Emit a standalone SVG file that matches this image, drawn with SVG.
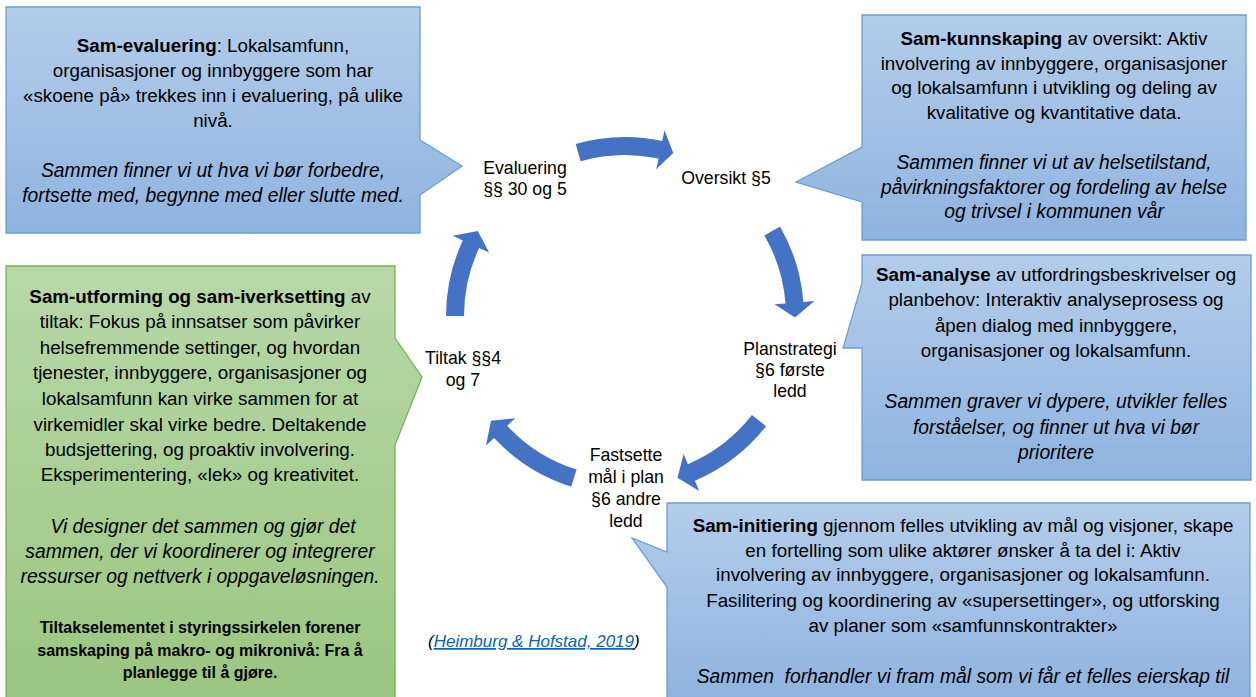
<svg xmlns="http://www.w3.org/2000/svg" width="1256" height="697" viewBox="0 0 1256 697">
<defs>
<linearGradient id="gb" x1="0" y1="0" x2="0" y2="1">
<stop offset="0" stop-color="#B3CDEA"/>
<stop offset="1" stop-color="#8FB3DF"/>
</linearGradient>
<linearGradient id="gg" x1="0" y1="0" x2="0" y2="1">
<stop offset="0" stop-color="#B8D8A9"/>
<stop offset="1" stop-color="#9BC57F"/>
</linearGradient>
<style>
.bb{fill:url(#gb);stroke:#6A9FD6;stroke-width:1.3}
.bg{fill:url(#gg);stroke:#77B255;stroke-width:1.3}
.t{font-family:"Liberation Sans",Arial,sans-serif;font-size:18.8px;fill:#000;text-anchor:middle}
.i{font-style:italic;font-size:19.3px}
.b{font-weight:bold}
.s{font-size:16px;font-weight:bold}
.lbl{font-size:17.7px}
.arr{fill:#4472C4}
.cite{font-family:"Liberation Sans",Arial,sans-serif;font-size:17px;font-style:italic;fill:#000}
.link{fill:#0563C1;text-decoration:underline}
</style>
</defs>

<g id="connectors">
<path class="arr" d="M575.7,143.9 A179,179 0 0 1 662.2,140.9 L664.5,130.2 L673.3,153 L656.2,169.3 L658.5,158.5 A161,161 0 0 0 580.6,161.2 Z"/>
<path class="arr" d="M780,226.5 A179,179 0 0 1 803.4,302 L814.4,301.1 L795,317.5 L774.5,304.2 L785.5,303.4 A161,161 0 0 0 764.4,235.5 Z"/>
<path class="arr" d="M766.1,426.2 A179,179 0 0 1 694.9,480.8 L699.2,490.9 L677.5,477.7 L683.6,454.1 L687.9,464.2 A161,161 0 0 0 751.9,415.1 Z"/>
<path class="arr" d="M571.2,486.7 A179,179 0 0 1 494.1,438.1 L486,445.6 L491,420.7 L515.3,418.3 L507.2,425.8 A161,161 0 0 0 576.6,469.5 Z"/>
<path class="arr" d="M446,316 A179,179 0 0 1 462.8,240.4 L452.8,235.7 L477.8,231 L489.1,252.6 L479.1,248 A161,161 0 0 0 464,316 Z"/>
</g>

<g id="sam-evaluering">
<path class="bb" d="M6,7 H420 V140 L462,166 L420,195 V233 H6 Z"/>
<text class="t" x="213" y="52"><tspan class="b">Sam-evaluering</tspan>: Lokalsamfunn,</text>
<text class="t" x="213" y="77">organisasjoner og innbyggere som har</text>
<text class="t" x="213" y="102">«skoene på» trekkes inn i evaluering, på ulike</text>
<text class="t" x="213" y="127">nivå.</text>
<text class="t i" x="213" y="177">Sammen finner vi ut hva vi bør forbedre,</text>
<text class="t i" x="213" y="202">fortsette med, begynne med eller slutte med.</text>
</g>

<g id="sam-kunnskaping">
<path class="bb" d="M862,15 H1246 V240 H862 V202 L796,182 L862,147 Z"/>
<text class="t" x="1054" y="45"><tspan class="b">Sam-kunnskaping</tspan> av oversikt: Aktiv</text>
<text class="t" x="1054" y="70">involvering av innbyggere, organisasjoner</text>
<text class="t" x="1054" y="94">og lokalsamfunn i utvikling og deling av</text>
<text class="t" x="1054" y="119">kvalitative og kvantitative data.</text>
<text class="t i" x="1054" y="169">Sammen finner vi ut av helsetilstand,</text>
<text class="t i" x="1054" y="194">påvirkningsfaktorer og fordeling av helse</text>
<text class="t i" x="1054" y="218">og trivsel i kommunen vår</text>
</g>

<g id="sam-utforming">
<path class="bg" d="M6,266 H395 V338 L422,377 L395,445 V705 H6 Z"/>
<text class="t" x="200" y="303"><tspan class="b">Sam-utforming og sam-iverksetting</tspan> av</text>
<text class="t" x="200" y="328">tiltak: Fokus på innsatser som påvirker</text>
<text class="t" x="200" y="354">helsefremmende settinger, og hvordan</text>
<text class="t" x="200" y="379">tjenester, innbyggere, organisasjoner og</text>
<text class="t" x="200" y="405">lokalsamfunn kan virke sammen for at</text>
<text class="t" x="200" y="431">virkemidler skal virke bedre. Deltakende</text>
<text class="t" x="200" y="456">budsjettering, og proaktiv involvering.</text>
<text class="t" x="200" y="481">Eksperimentering, «lek» og kreativitet.</text>
<text class="t i" x="203" y="533">Vi designer det sammen og gjør det</text>
<text class="t i" x="200" y="558">sammen, der vi koordinerer og integrerer</text>
<text class="t i" x="200" y="583">ressurser og nettverk i oppgaveløsningen.</text>
<text class="t s" x="200" y="633">Tiltakselementet i styringssirkelen forener</text>
<text class="t s" x="200" y="656">samskaping på makro- og mikronivå: Fra å</text>
<text class="t s" x="200" y="678">planlegge til å gjøre.</text>
</g>

<g id="sam-analyse">
<path class="bb" d="M862,255 H1251 V480 H862 V348 L843,348 L862,283 Z"/>
<text class="t" x="1056" y="281"><tspan class="b">Sam-analyse</tspan> av utfordringsbeskrivelser og</text>
<text class="t" x="1056" y="306">planbehov: Interaktiv analyseprosess og</text>
<text class="t" x="1056" y="332">åpen dialog med innbyggere,</text>
<text class="t" x="1056" y="357">organisasjoner og lokalsamfunn.</text>
<text class="t i" x="1056" y="408">Sammen graver vi dypere, utvikler felles</text>
<text class="t i" x="1056" y="434">forståelser, og finner ut hva vi bør</text>
<text class="t i" x="1056" y="459">prioritere</text>
</g>

<g id="sam-initiering">
<path class="bb" d="M667,503 H1250 V705 H667 V587 L632,538 L667,552 Z"/>
<text class="t" x="963" y="532"><tspan class="b">Sam-initiering</tspan> gjennom felles utvikling av mål og visjoner, skape</text>
<text class="t" x="963" y="557">en fortelling som ulike aktører ønsker å ta del i: Aktiv</text>
<text class="t" x="963" y="581">involvering av innbyggere, organisasjoner og lokalsamfunn.</text>
<text class="t" x="963" y="607">Fasilitering og koordinering av «supersettinger», og utforsking</text>
<text class="t" x="963" y="632">av planer som «samfunnskontrakter»</text>
<text class="t i" x="963" y="683" xml:space="preserve">Sammen  forhandler vi fram mål som vi får et felles eierskap til</text>
</g>

<g id="evaluering">
<text class="t lbl" x="525" y="174">Evaluering</text>
<text class="t lbl" x="525" y="195">§§ 30 og 5</text>
</g>
<g id="oversikt">
<text class="t lbl" x="726" y="184">Oversikt §5</text>
</g>
<g id="planstrategi">
<text class="t lbl" x="790" y="355">Planstrategi</text>
<text class="t lbl" x="790" y="376">§6 første</text>
<text class="t lbl" x="790" y="397">ledd</text>
</g>
<g id="fastsette">
<text class="t lbl" x="626" y="461">Fastsette</text>
<text class="t lbl" x="626" y="483">mål i plan</text>
<text class="t lbl" x="626" y="505">§6 andre</text>
<text class="t lbl" x="626" y="527">ledd</text>
</g>
<g id="tiltak">
<text class="t lbl" x="463" y="364">Tiltak §§4</text>
<text class="t lbl" x="463" y="386">og 7</text>
</g>

<g id="citation">
<text class="cite" x="428" y="647">(<tspan class="link">Heimburg &amp; Hofstad, 2019</tspan>)</text>
</g>
</svg>
